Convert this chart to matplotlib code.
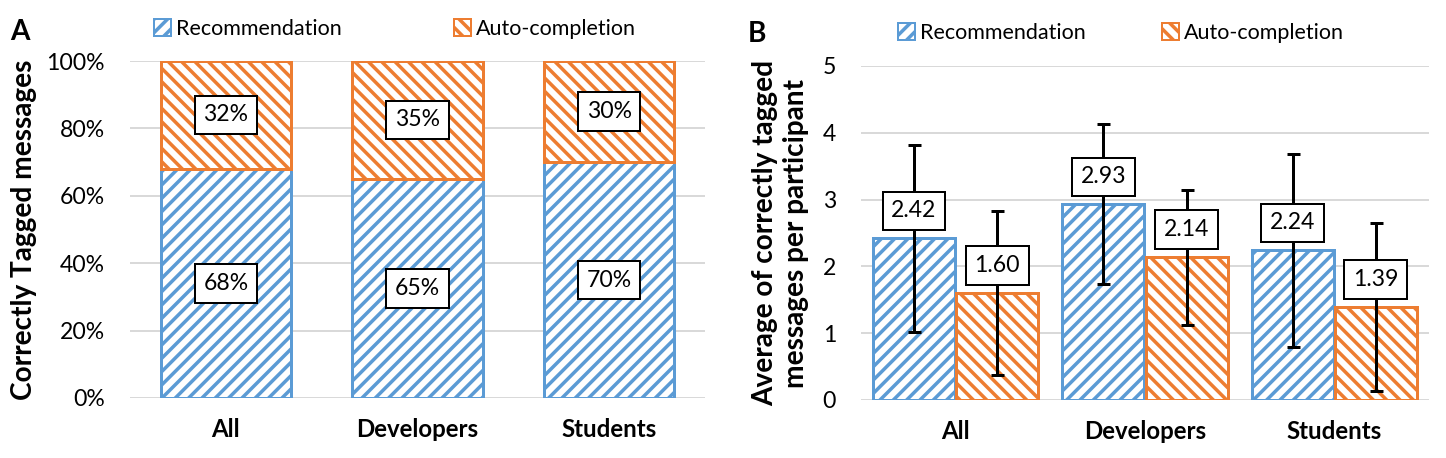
import numpy as np
import matplotlib
matplotlib.use('Agg')
import matplotlib.pyplot as plt
from matplotlib.patches import Patch
from matplotlib.ticker import FuncFormatter

# data
categories = ['All', 'Developers', 'Students']
pct_rec = [68, 65, 70]
pct_auto = [32, 35, 30]
avg_rec = [2.42, 2.93, 2.24]
avg_auto = [1.60, 2.14, 1.39]
sd_rec = [1.40, 1.20, 1.44]
sd_auto = [1.23, 1.01, 1.26]

DPI = 120
def px(n):
    return n * 72.0 / DPI

blue = '#5B9BD5'
orange = '#ED7D31'
grid_c = '#D9D9D9'

plt.rcParams['font.family'] = ['Lato', 'DejaVu Sans']
plt.rcParams['hatch.linewidth'] = px(3.5)

fig = plt.figure(figsize=(1446 / DPI, 458 / DPI), dpi=DPI)
axA = fig.add_axes([130 / 1446, 1 - 398 / 458, 575 / 1446, 337 / 458])
axB = fig.add_axes([861 / 1446, 1 - 400 / 458, 568 / 1446, 334 / 458])

fs = px(23)       # tick + data labels
fs_leg = px(21.5)
fs_bold = px(24)  # category labels
fs_ylab = px(28)
x = np.arange(len(categories))

# Panel A: stacked percentages
axA.bar(x, pct_rec, 0.68, facecolor='white', edgecolor=blue, hatch='///',
        linewidth=px(3), zorder=2)
axA.bar(x, pct_auto, 0.68, bottom=pct_rec, facecolor='white', edgecolor=orange,
        hatch='\\\\\\', linewidth=px(3), zorder=2)
box = dict(boxstyle='square,pad=0.38', fc='white', ec='black', lw=px(2))
for i in range(len(categories)):
    axA.text(x[i], pct_rec[i] / 2, '%d%%' % pct_rec[i], ha='center', va='center',
             fontsize=fs, bbox=box, zorder=4)
    axA.text(x[i], pct_rec[i] + pct_auto[i] / 2, '%d%%' % pct_auto[i], ha='center',
             va='center', fontsize=fs, bbox=box, zorder=4)
axA.set_ylim(0, 100)
axA.set_xlim(-0.5, 2.5)
axA.set_yticks(np.arange(0, 101, 20))
axA.yaxis.set_major_formatter(FuncFormatter(lambda v, p: '%d%%' % v))
axA.set_ylabel('Correctly Tagged messages', fontsize=fs_ylab, fontweight='bold',
               labelpad=px(9))

# Panel B: averages with error bars
w = 0.433
axB.bar(x - 0.22, avg_rec, w, facecolor='white', edgecolor=blue, hatch='///',
        linewidth=px(3), zorder=2)
axB.bar(x + 0.22, avg_auto, w, facecolor='white', edgecolor=orange, hatch='\\\\\\',
        linewidth=px(3), zorder=2)
axB.errorbar(x - 0.22, avg_rec, yerr=sd_rec, fmt='none', ecolor='black',
             elinewidth=px(3), capsize=px(6.5), capthick=px(3), zorder=3)
axB.errorbar(x + 0.22, avg_auto, yerr=sd_auto, fmt='none', ecolor='black',
             elinewidth=px(3), capsize=px(6.5), capthick=px(3), zorder=3)
for xs, vals in [(x - 0.22, avg_rec), (x + 0.22, avg_auto)]:
    for xi, v in zip(xs, vals):
        axB.annotate('%.2f' % v, xy=(xi, v), xytext=(0, px(17)), textcoords='offset points',
                     ha='center', va='bottom', fontsize=fs, bbox=box, zorder=4)
axB.set_ylim(0, 5)
axB.set_xlim(-0.5, 2.5)
axB.set_yticks(range(6))
axB.set_ylabel('Average of correctly tagged\nmessages per participant', fontsize=fs_ylab,
               fontweight='bold', labelpad=px(14), linespacing=1.2)

for ax in (axA, axB):
    for s in ax.spines.values():
        s.set_visible(False)
    ax.yaxis.grid(True, color=grid_c, linewidth=px(2))
    ax.set_axisbelow(True)
    ax.tick_params(length=0, labelsize=fs)
    ax.tick_params(axis='y', pad=px(25))
    ax.tick_params(axis='x', pad=px(20))
    ax.set_xticks(x)
    ax.set_xticklabels(categories, fontweight='bold', fontsize=fs_bold)

handles = [Patch(facecolor='white', edgecolor=blue, hatch='///', linewidth=px(2), label='Recommendation'),
           Patch(facecolor='white', edgecolor=orange, hatch='\\\\\\', linewidth=px(2), label='Auto-completion')]
fig.legend(handles=handles, loc='center', bbox_to_anchor=(395 / 1446, 1 - 29 / 458),
           ncol=2, frameon=False, fontsize=fs_leg, handlelength=0.8, handleheight=0.8,
           handletextpad=0.25, columnspacing=5.2, borderpad=0)
fig.legend(handles=handles, loc='center', bbox_to_anchor=(1121 / 1446, 1 - 33 / 458),
           ncol=2, frameon=False, fontsize=fs_leg, handlelength=0.8, handleheight=0.8,
           handletextpad=0.25, columnspacing=3.5, borderpad=0)

fig.text(10 / 1446, 1 - 40 / 458, 'A', fontsize=px(28), fontweight='bold', va='baseline')
fig.text(748 / 1446, 1 - 42 / 458, 'B', fontsize=px(28), fontweight='bold', va='baseline')

fig.savefig('out.png', dpi=DPI)
